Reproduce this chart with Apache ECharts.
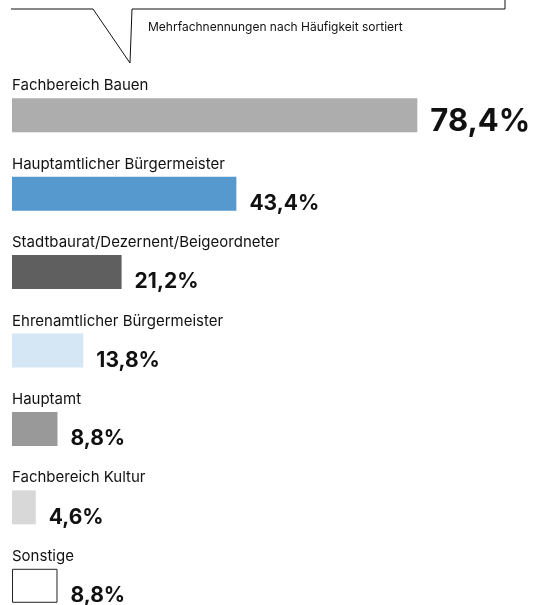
<!DOCTYPE html>
<html><head><meta charset="utf-8">
<script src="https://cdn.jsdelivr.net/npm/echarts@6/dist/echarts.min.js"></script>
<style>html,body{margin:0;padding:0;background:#fff;overflow:hidden}#c{width:549px;height:625px}</style>
</head><body><div id="c"></div>
<script>
const categories = ["Fachbereich Bauen","Hauptamtlicher Bürgermeister","Stadtbaurat/Dezernent/Beigeordneter","Ehrenamtlicher Bürgermeister","Hauptamt","Fachbereich Kultur","Sonstige"];
const values = [78.4, 43.4, 21.2, 13.8, 8.8, 4.6, 8.8];
const colors = ["#adadad","#5599ce","#5f5f5f","#d5e6f4","#999999","#d8d8d8","#ffffff"];
const note = "Mehrfachnennungen nach Häufigkeit sortiert";

const FONT = "Inter, 'Liberation Sans', sans-serif";
const chart = echarts.init(document.getElementById('c'), null, {renderer:'canvas'});
const fmt = v => v.toFixed(1).replace('.', ',') + '%';
chart.setOption({
  animation:false,
  backgroundColor:'#fff',
  grid:{left:12, top:76, right:20, bottom:0, containLabel:false},
  xAxis:{type:'value', min:0, max:100, show:false},
  yAxis:{type:'category', data:categories, inverse:true,
    axisLine:{show:false}, axisTick:{show:false}, splitLine:{show:false},
    axisLabel:{inside:true, margin:0, align:'left', verticalAlign:'bottom',
      padding:[0,0,22,0], color:'#111', fontFamily:FONT, fontSize:15}},
  series:[{
    type:'bar', barWidth:34,
    data: values.map((v,i)=>({value:v,
      itemStyle:{color:colors[i], borderColor: i===6 ? '#222' : colors[i], borderWidth: i===6 ? 1 : 0},
      label: i===0 ? {fontSize:31, offset:[0,6]} : {}})),
    label:{show:true, position:'right', distance:13, offset:[0,10],
      formatter:p=>fmt(p.value), color:'#111', fontFamily:FONT, fontWeight:'bold', fontSize:21}
  }],
  graphic:[
    {type:'polyline', shape:{points:[[11,9],[93,9],[130,63],[132,9],[505,9],[505,-2]]},
      style:{stroke:'#111', lineWidth:1, fill:null}},
    {type:'text', left:148, top:21, style:{text:note, font:'12px '+FONT, fill:'#111'}}
  ]
});
</script></body></html>
